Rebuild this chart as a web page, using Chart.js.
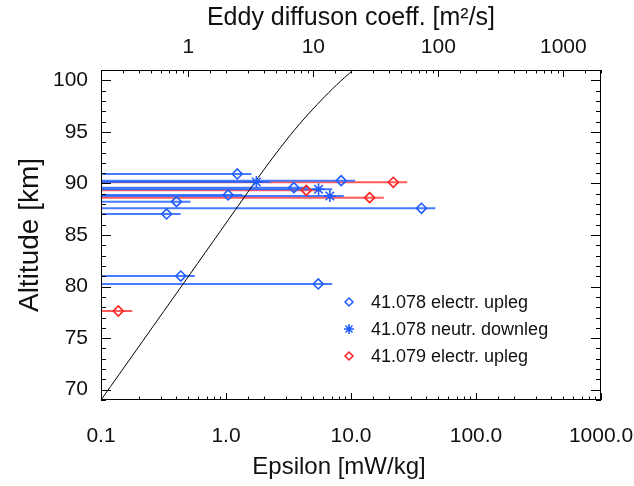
<!DOCTYPE html>
<html lang="en">
<head>
<meta charset="UTF-8">
<title>Epsilon vs altitude</title>
<script src="https://cdn.jsdelivr.net/npm/chart.js"></script>
<style>
  html, body { margin: 0; padding: 0; background: #fff; }
  #wrap { width: 634px; height: 486px; }
</style>
</head>
<body>
<div id="wrap"><canvas id="epsChart" width="634" height="486"></canvas></div>
<script>
// 41.078 electr. upleg (value, upper end of error bar, altitude)
const up78Eps = [1.23, 8.35, 3.49, 1.04, 0.402, 36.6, 0.335, 0.435, 5.47];
const up78Hi  = [1.60, 10.8, 4.52, 1.35, 0.520, 47.3, 0.433, 0.563, 7.08];
const up78Alt = [90.92, 90.27, 89.59, 88.88, 88.23, 87.59, 87.04, 81.02, 80.25];

// 41.078 neutr. downleg
const down78Eps = [1.75, 5.50, 6.77];
const down78Hi  = [2.26, 7.08, 8.76];
const down78Alt = [90.14, 89.43, 88.78];

// 41.079 electr. upleg
const up79Eps = [0.1375, 21.8, 4.39, 14.1];
const up79Hi  = [0.178, 28.1, 5.68, 18.3];
const up79Alt = [77.63, 90.11, 89.33, 88.62];

// model curve
const curveEps = [0.1, 0.458, 1.35, 2.0, 3.04, 4.13, 5.80, 7.66, 10.4];
const curveAlt = [69.0, 80.32, 88.39, 91.30, 94.21, 96.15, 98.09, 99.55, 101.0];

const legendLabels = ['41.078 electr. upleg', '41.078 neutr. downleg', '41.079 electr. upleg'];
const xTitle = 'Epsilon [mW/kg]';
const bottomTicks = [0.1, 1, 10, 100, 1000];
const bottomTickLabels = ['0.1', '1.0', '10.0', '100.0', '1000.0'];
const topTicks = [1, 10, 100, 1000];
const topTickLabels = ['1', '10', '100', '1000'];

const BLUE = '#1f5cff';
const BLUE_BAR = 'rgba(40,100,255,0.85)';
const RED = '#ff1f1f';
const RED_BAR = 'rgba(255,50,50,0.8)';
const FONT = '"Liberation Sans", Arial, Helvetica, sans-serif';

function isDecade(v) {
    const l = Math.log10(v);
    return Math.abs(l - Math.round(l)) < 1e-6;
}
function labelFor(v, list, labels) {
    const i = list.findIndex(t => Math.abs(t - v) / t < 1e-6);
    return i >= 0 ? labels[i] : '';
}
// keep the plot box fixed: no extra room for the edge labels
function fixBox(w, h) {
    return s => {
        if (w) s.width = w;
        if (h) s.height = h;
        s.paddingLeft = 0; s.paddingRight = 0;
        s.paddingTop = 0; s.paddingBottom = 0;
    };
}

const datasets = [];
function addGroup(eps, hi, alt, color, barColor, style, radius) {
    eps.forEach((e, i) => {
        datasets.push({
            type: 'line',
            data: [{ x: 0.1, y: alt[i] }, { x: hi[i], y: alt[i] }],
            borderColor: barColor,
            borderWidth: 2,
            pointRadius: 0,
            order: 3
        });
    });
    datasets.push({
        type: 'scatter',
        data: eps.map((e, i) => ({ x: e, y: alt[i] })),
        pointStyle: style,
        radius: radius,
        borderColor: color,
        backgroundColor: 'rgba(0,0,0,0)',
        borderWidth: 1.6,
        order: 1
    });
}
addGroup(up78Eps, up78Hi, up78Alt, BLUE, BLUE_BAR, 'rectRot', 5);
addGroup(down78Eps, down78Hi, down78Alt, BLUE, BLUE_BAR, 'star', 6);
addGroup(up79Eps, up79Hi, up79Alt, RED, RED_BAR, 'rectRot', 5);

datasets.push({
    type: 'line',
    data: curveEps.map((e, i) => ({ x: e, y: curveAlt[i] })),
    borderColor: '#000',
    borderWidth: 1,
    pointRadius: 0,
    tension: 0.3,
    order: 2
});

// frame + inward tick marks like IDL
const idlFrame = {
    id: 'idlFrame',
    afterDraw(chart) {
        const { ctx, chartArea: a, scales } = chart;
        ctx.save();
        ctx.strokeStyle = '#000';
        ctx.lineWidth = 1;
        ctx.strokeRect(a.left + 0.5, a.top + 0.5, a.right - a.left - 1, a.bottom - a.top - 1);
        ctx.beginPath();
        scales.x.ticks.forEach(t => {
            const px = Math.round(scales.x.getPixelForValue(t.value)) + 0.5;
            const len = isDecade(t.value) ? 7 : 3.5;
            ctx.moveTo(px, a.bottom); ctx.lineTo(px, a.bottom - len);
        });
        scales.x2.ticks.forEach(t => {
            const px = Math.round(scales.x2.getPixelForValue(t.value)) + 0.5;
            const len = isDecade(t.value) ? 7 : 3.5;
            ctx.moveTo(px, a.top); ctx.lineTo(px, a.top + len);
        });
        scales.y.ticks.forEach(t => {
            const py = Math.round(scales.y.getPixelForValue(t.value)) + 0.5;
            const len = t.value % 5 === 0 ? 10 : 5;
            ctx.moveTo(a.left, py); ctx.lineTo(a.left + len, py);
            ctx.moveTo(a.right, py); ctx.lineTo(a.right - len, py);
        });
        ctx.stroke();

        // bottom axis title, sits a little left of centre in the original
        ctx.font = '24px ' + FONT;
        ctx.fillStyle = '#111';
        ctx.textAlign = 'center';
        ctx.textBaseline = 'middle';
        ctx.fillText(xTitle, (a.left + a.right) / 2 - 12, 467);
        ctx.restore();
    }
};

// legend inside the plot, lower right
const idlLegend = {
    id: 'idlLegend',
    afterDraw(chart) {
        const ctx = chart.ctx;
        const symX = 349, textX = 371, rows = [302, 329, 356];
        const colors = [BLUE, BLUE, RED];
        const styles = ['diamond', 'star', 'diamond'];
        ctx.save();
        ctx.font = '18px ' + FONT;
        ctx.textBaseline = 'middle';
        ctx.fillStyle = '#111';
        legendLabels.forEach((txt, i) => {
            const y = rows[i];
            ctx.strokeStyle = colors[i];
            ctx.lineWidth = 1.5;
            ctx.beginPath();
            if (styles[i] === 'diamond') {
                const r = 4;
                ctx.moveTo(symX, y - r); ctx.lineTo(symX + r, y);
                ctx.lineTo(symX, y + r); ctx.lineTo(symX - r, y); ctx.closePath();
            } else {
                const r = 5;
                ctx.moveTo(symX, y - r); ctx.lineTo(symX, y + r);
                ctx.moveTo(symX - r, y); ctx.lineTo(symX + r, y);
                ctx.moveTo(symX - r * 0.7, y - r * 0.7); ctx.lineTo(symX + r * 0.7, y + r * 0.7);
                ctx.moveTo(symX - r * 0.7, y + r * 0.7); ctx.lineTo(symX + r * 0.7, y - r * 0.7);
            }
            ctx.stroke();
            ctx.fillText(txt, textX, y + 1);
        });
        ctx.restore();
    }
};

new Chart(document.getElementById('epsChart'), {
    data: { datasets: datasets },
    plugins: [idlFrame, idlLegend],
    options: {
        responsive: false,
        animation: false,
        layout: { padding: { left: 0, right: 33, top: 0, bottom: 0 } },
        plugins: { legend: { display: false }, tooltip: { enabled: false } },
        scales: {
            x: {
                type: 'logarithmic',
                position: 'bottom',
                min: 0.1,
                max: 1000,
                afterFit: fixBox(0, 86),
                grid: { display: false, drawTicks: false },
                border: { display: false },
                ticks: {
                    autoSkip: false, maxRotation: 0, padding: 24,
                    color: '#111', font: { family: FONT, size: 21 },
                    callback: v => labelFor(v, bottomTicks, bottomTickLabels)
                },
                title: { display: false }
            },
            x2: {
                type: 'logarithmic',
                position: 'top',
                min: 0.2,
                max: 2000,
                afterFit: fixBox(0, 70),
                grid: { display: false, drawTicks: false },
                border: { display: false },
                ticks: {
                    autoSkip: false, maxRotation: 0, padding: 10,
                    color: '#111', font: { family: FONT, size: 21 },
                    callback: v => labelFor(v, topTicks, topTickLabels)
                },
                title: {
                    display: true, text: 'Eddy diffuson coeff. [m²/s]', color: '#111',
                    font: { family: FONT, size: 25 }, padding: { top: 3, bottom: 0 }
                }
            },
            y: {
                type: 'linear',
                min: 69,
                max: 101,
                afterFit: fixBox(101, 0),
                grid: { display: false, drawTicks: false },
                border: { display: false },
                ticks: {
                    stepSize: 1, autoSkip: false, padding: 13,
                    color: '#111', font: { family: FONT, size: 21 },
                    callback: v => (v % 5 === 0 ? String(v) : '')
                },
                title: {
                    display: true, text: 'Altitude [km]', color: '#111',
                    font: { family: FONT, size: 28 }, padding: { top: 13, bottom: 0 }
                }
            }
        }
    }
});
</script>
</body>
</html>
